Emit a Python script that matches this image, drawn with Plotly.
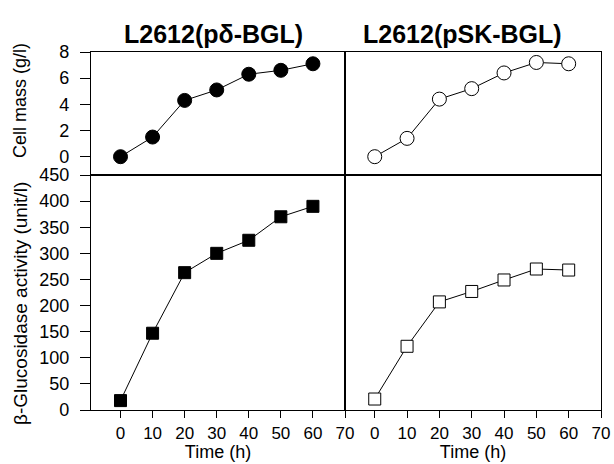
import plotly.graph_objects as go

time_h = [0, 10, 20, 30, 40, 50, 60]
cell_mass_pdelta = [0.0, 1.5, 4.3, 5.1, 6.3, 6.6, 7.1]
cell_mass_psk = [0.0, 1.4, 4.4, 5.2, 6.4, 7.2, 7.1]
bgl_pdelta = [18, 147, 263, 300, 325, 370, 390]
bgl_psk = [21, 122, 207, 227, 249, 270, 268]

titles = ["L2612(pδ-BGL)", "L2612(pSK-BGL)"]
x_ticks = [0, 10, 20, 30, 40, 50, 60, 70]
mass_ticks = [0, 2, 4, 6, 8]
bgl_ticks = [0, 50, 100, 150, 200, 250, 300, 350, 400, 450]

W, H = 614, 464
L, R, T, B = 91, 13, 52, 54
PW, PH = W - L - R, H - T - B
split_x = (345 - L) / PW
split_y = (410 - 175) / PH
xl = [0, split_x]
xr = [split_x, 1]
yt = [split_y, 1]
yb = [0, split_y]

FAM = "Liberation Sans, Arial, sans-serif"
font = dict(family=FAM, size=17, color="black")

fig = go.Figure()

def add(x, y, xa, ya, symbol, filled):
    fig.add_trace(go.Scatter(
        x=x, y=y, xaxis=xa, yaxis=ya, mode="lines+markers",
        line=dict(color="black", width=1),
        marker=dict(symbol=symbol, size=14 if "circle" in symbol else 12,
                    color="black" if filled else "white",
                    line=dict(color="black", width=1)),
        showlegend=False, cliponaxis=False))

add(time_h, cell_mass_pdelta, "x", "y", "circle", True)
add(time_h, cell_mass_psk, "x2", "y2", "circle", False)
add(time_h, bgl_pdelta, "x3", "y3", "square", True)
add(time_h, bgl_psk, "x4", "y4", "square", False)

xr_range = [-9.2, 70]
common_x = dict(range=xr_range, showgrid=False, zeroline=False, showline=True,
                linecolor="black", linewidth=1.2, mirror=True, automargin=False)
common_y = dict(showgrid=False, zeroline=False, showline=True,
                linecolor="black", linewidth=1.2, mirror=True, automargin=False)

ytick_font = dict(size=18, family=FAM, color="black")

fig.update_layout(
    width=W, height=H, margin=dict(l=L, r=R, t=T, b=B),
    plot_bgcolor="white", paper_bgcolor="white", font=font,
    xaxis=dict(domain=xl, anchor="y", showticklabels=False, ticks="", **common_x),
    xaxis2=dict(domain=xr, anchor="y2", showticklabels=False, ticks="", **common_x),
    xaxis3=dict(domain=xl, anchor="y3", tickvals=x_ticks, ticks="outside", ticklen=7,
                tickcolor="black",
                title=dict(text="Time (h)", standoff=0, font=dict(size=18)), **common_x),
    xaxis4=dict(domain=xr, anchor="y4", tickvals=x_ticks, ticks="outside", ticklen=7,
                tickcolor="black",
                title=dict(text="Time (h)", standoff=0, font=dict(size=18)), **common_x),
    yaxis=dict(domain=yt, anchor="x", range=[-1.4, 8], tickvals=mass_ticks,
               ticks="outside", ticklen=10, tickcolor="black", tickfont=ytick_font,
               ticklabelstandoff=7, **common_y),
    yaxis2=dict(domain=yt, anchor="x2", range=[-1.4, 8], showticklabels=False,
                ticks="", **common_y),
    yaxis3=dict(domain=yb, anchor="x3", range=[0, 450], tickvals=bgl_ticks,
                ticks="outside", ticklen=10, tickcolor="black", tickfont=ytick_font,
                ticklabelstandoff=7, **common_y),
    yaxis4=dict(domain=yb, anchor="x4", range=[0, 450], showticklabels=False,
                ticks="", **common_y),
)

def px_x(p):
    return (p - L) / PW

def px_y(p):
    return (H - B - p) / PH

fig.add_annotation(text="Cell mass (g/l)", xref="paper", yref="paper",
                   x=px_x(20), y=px_y(101), textangle=-90, showarrow=False,
                   xanchor="center", yanchor="middle", font=dict(size=18, family=FAM))
fig.add_annotation(text="β-Glucosidase activity (unit/l)", xref="paper", yref="paper",
                   x=px_x(20), y=px_y(304), textangle=-90, showarrow=False,
                   xanchor="center", yanchor="middle", font=dict(size=19, family=FAM))

fig.add_annotation(text="<b>" + titles[0] + "</b>", xref="paper", yref="paper",
                   x=px_x(213), y=px_y(34), showarrow=False,
                   xanchor="center", yanchor="middle",
                   font=dict(size=25, family=FAM))
fig.add_annotation(text="<b>" + titles[1] + "</b>", xref="paper", yref="paper",
                   x=px_x(462), y=px_y(34), showarrow=False,
                   xanchor="center", yanchor="middle",
                   font=dict(size=25, family=FAM))

fig.write_html("out.html", config={"displayModeBar": False},
               post_script="document.body.style.margin='0';")
